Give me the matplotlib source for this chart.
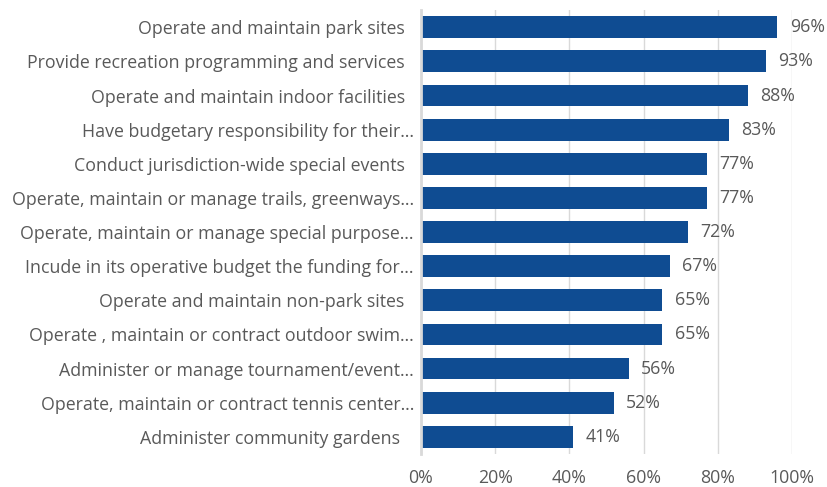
import matplotlib.pyplot as plt
from matplotlib.ticker import PercentFormatter

plt.rcParams['font.family'] = ['Open Sans', 'DejaVu Sans']

labels = [
    "Operate and maintain park sites  ",
    "Provide recreation programming and services  ",
    "Operate and maintain indoor facilities  ",
    "Have budgetary responsibility for their\u2026",
    "Conduct jurisdiction-wide special events  ",
    "Operate, maintain or manage trails, greenways\u2026",
    "Operate, maintain or manage special purpose\u2026",
    "Incude in its operative budget the funding for\u2026",
    "Operate and maintain non-park sites  ",
    "Operate , maintain or contract outdoor swim\u2026",
    "Administer or manage tournament/event\u2026",
    "Operate, maintain or contract tennis center\u2026",
    "Administer community gardens   ",
]
values = [0.96, 0.93, 0.88, 0.83, 0.77, 0.77, 0.72, 0.67, 0.65, 0.65, 0.56, 0.52, 0.41]

text_color = '#595959'
bar_color = '#0F4C92'
fs = 12.8

fig = plt.figure(figsize=(8.27, 4.87), dpi=100)
ax = fig.add_axes([0.509, 0.068, 0.449, 0.911])

ypos = list(range(len(labels)))
ax.barh(ypos, values, height=0.64, color=bar_color, zorder=3)
for y, v in zip(ypos, values):
    ax.text(v + 0.033, y, f"{round(v * 100)}%", va='center', ha='left',
            fontsize=fs, color=text_color)

ax.set_yticks(ypos)
ax.set_yticklabels(labels, fontsize=fs, color=text_color)
ax.set_ylim(len(labels) - 0.5, -0.5)
ax.set_xlim(0, 1)
ax.set_xticks([0, 0.2, 0.4, 0.6, 0.8, 1.0])
ax.xaxis.set_major_formatter(PercentFormatter(1.0, decimals=0))
ax.tick_params(axis='x', labelsize=fs, colors=text_color, length=0, pad=11)
ax.tick_params(axis='y', length=0, pad=5)

ax.grid(axis='x', color='#D9D9D9', linewidth=1, zorder=0)
for s in ['top', 'right', 'bottom']:
    ax.spines[s].set_visible(False)
ax.spines['left'].set_color('#D9D9D9')
ax.spines['left'].set_linewidth(2)
ax.spines['left'].set_zorder(4)

fig.savefig('out.png', dpi=100)
